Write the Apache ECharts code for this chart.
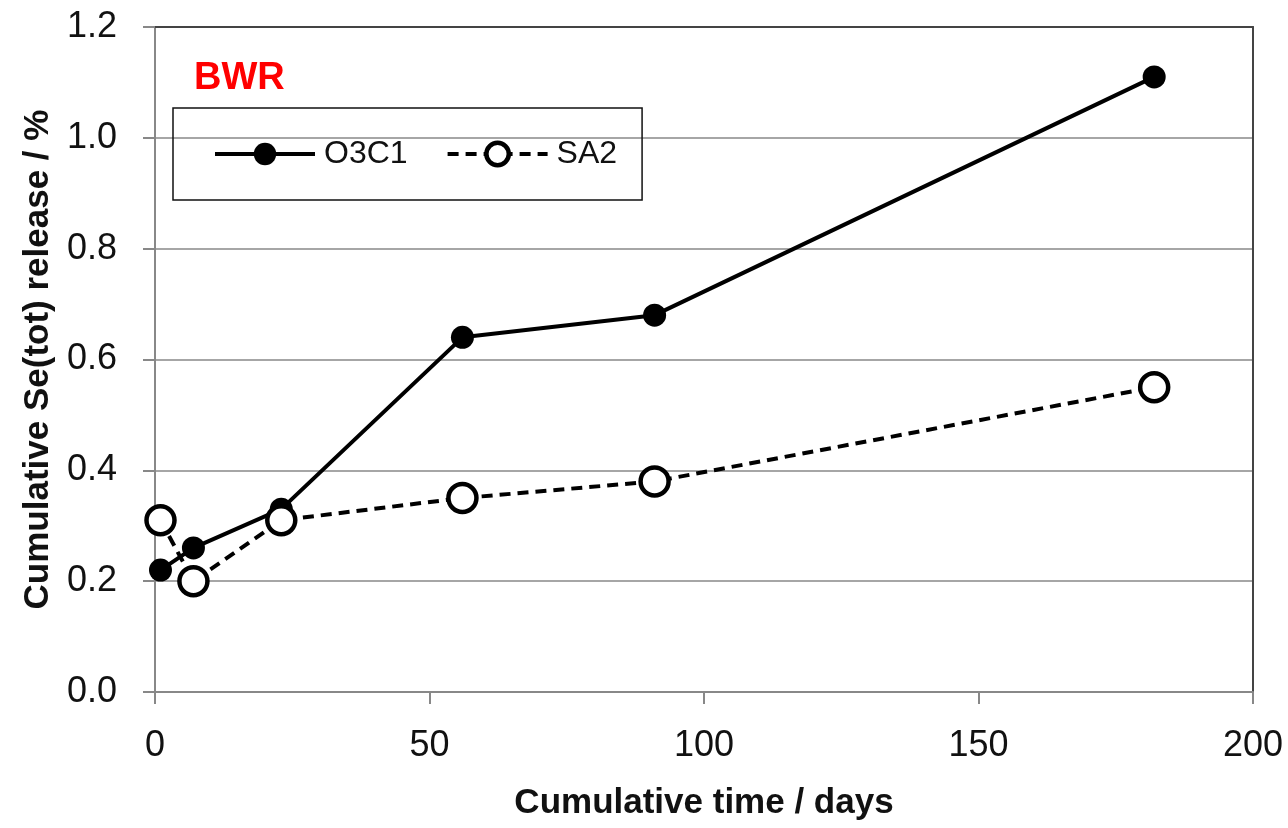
<!DOCTYPE html>
<html><head><meta charset="utf-8">
<script src="https://cdn.jsdelivr.net/npm/echarts@6/dist/echarts.min.js"></script>
<style>html,body{margin:0;padding:0;background:#fff}#c{width:1288px;height:828px}</style>
</head><body><div id="c"></div>
<script>
const days = [1, 7, 23, 56, 91, 182];
const o3c1 = [0.22, 0.26, 0.33, 0.64, 0.68, 1.11];
const sa2 = [0.31, 0.20, 0.31, 0.35, 0.38, 0.55];
const xTicks = [0, 50, 100, 150, 200];
const yTicks = [0.0, 0.2, 0.4, 0.6, 0.8, 1.0, 1.2];

const FONT = 'Liberation Sans';
const chart = echarts.init(document.getElementById('c'));
const pair = (xs, ys) => xs.map((x, i) => [x, ys[i]]);
chart.setOption({
  animation: false,
  title: { text: 'BWR', left: 194, top: 60, padding: 0, textStyle: { color: '#ff0000', fontSize: 38, fontWeight: 'bold', fontFamily: FONT } },
  legend: {
    left: 173, top: 108,
    padding: [30, 25, 30, 40],
    borderColor: '#111', borderWidth: 1.5,
    itemWidth: 100, itemHeight: 28, itemGap: 38,
    lineStyle: { width: 4 },
    itemStyle: { borderWidth: 'inherit' },
    textStyle: { fontSize: 32, color: '#111', fontFamily: FONT, padding: [2, 0, 0, 4] },
    data: ['O3C1', 'SA2']
  },
  grid: { left: 155, right: 35, top: 27, bottom: 136 },
  xAxis: [{
    type: 'value', min: xTicks[0], max: xTicks[xTicks.length - 1], interval: 50,
    name: 'Cumulative time / days', nameLocation: 'middle', nameGap: 94,
    nameTextStyle: { fontSize: 35, fontWeight: 'bold', color: '#111', fontFamily: FONT },
    axisLine: { lineStyle: { color: '#888', width: 2 } },
    axisTick: { show: true, length: 12, lineStyle: { color: '#888', width: 2 } },
    axisLabel: { fontSize: 36, color: '#111', margin: 36, fontFamily: FONT },
    splitLine: { show: false }
  }, {
    type: 'value', position: 'top', min: 0, max: 200,
    axisLine: { show: true, onZero: false, lineStyle: { color: '#444', width: 2 } },
    axisTick: { show: false }, axisLabel: { show: false }, splitLine: { show: false }
  }],
  yAxis: [{
    type: 'value', min: yTicks[0], max: yTicks[yTicks.length - 1], interval: 0.2,
    name: 'Cumulative Se(tot) release / %', nameLocation: 'middle', nameGap: 97,
    nameTextStyle: { fontSize: 35, fontWeight: 'bold', color: '#111', fontFamily: FONT },
    axisLine: { show: true, lineStyle: { color: '#888', width: 2 } },
    axisTick: { show: true, length: 12, lineStyle: { color: '#888', width: 2 } },
    axisLabel: { fontSize: 36, color: '#111', margin: 38, fontFamily: FONT, formatter: v => v.toFixed(1) },
    splitLine: { show: true, lineStyle: { color: '#888', width: 1.5 } }
  }, {
    type: 'value', position: 'right', min: 0, max: 1.2,
    axisLine: { show: true, onZero: false, lineStyle: { color: '#444', width: 2 } },
    axisTick: { show: false }, axisLabel: { show: false }, splitLine: { show: false }
  }],
  series: [{
    name: 'O3C1', type: 'line', data: pair(days, o3c1),
    symbol: 'circle', symbolSize: 23,
    lineStyle: { color: '#000', width: 4 },
    itemStyle: { color: '#000', borderColor: '#000', borderWidth: 0 },
    z: 3
  }, {
    name: 'SA2', type: 'line', data: pair(days, sa2),
    symbol: 'circle', symbolSize: 28,
    lineStyle: { color: '#000', width: 4, type: [11, 7] },
    itemStyle: { color: '#fff', borderColor: '#000', borderWidth: 4.5 },
    z: 4
  }]
});
</script></body></html>
